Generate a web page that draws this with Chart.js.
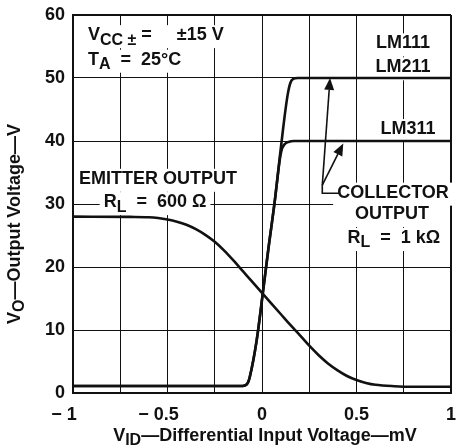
<!DOCTYPE html>
<html>
<head>
<meta charset="utf-8">
<script src="https://cdn.jsdelivr.net/npm/chart.js@4.4.1/dist/chart.umd.min.js"></script>
<style>
  body { margin: 0; background: #fff; }
  #wrap { width: 457px; height: 448px; }
</style>
</head>
<body>
<div id="wrap"><canvas id="vo" width="457" height="448"></canvas></div>
<script>
// tick marks / labels
const xTickValues = [-1, -0.5, 0, 0.5, 1];
const xTickLabels = ['\u2212 1\u2003', '\u2212 0.5\u2003', '0', '0.5', '1'];
const yTickValues = [0, 10, 20, 30, 40, 50, 60];

// collector output, LM111 / LM211 (V vs mV)
const lm111X = [-1, -0.12, -0.09, -0.075, -0.065, -0.028, 0.005, 0.033, 0.069, 0.086, 0.113, 0.135, 0.15, 0.165, 0.19, 1];
const lm111Y = [1.1, 1.1, 1.2, 1.6, 2.5, 8.4, 16, 22.7, 30.8, 35.3, 42.3, 47.2, 49.2, 49.85, 50, 50];

// collector output, LM311
const lm311X = [-1, -0.12, -0.09, -0.075, -0.065, -0.028, 0.005, 0.033, 0.069, 0.086, 0.097, 0.106, 0.12, 0.14, 0.17, 0.2, 1];
const lm311Y = [1.1, 1.1, 1.2, 1.6, 2.5, 8.4, 16, 22.7, 30.8, 35.2, 37.6, 38.8, 39.5, 39.85, 40, 40, 40];

// emitter output, RL = 600 ohm
const emitterX = [-1, -0.7, -0.6, -0.55, -0.5, -0.45, -0.4, -0.35, -0.3, -0.25, -0.2, -0.15, -0.1, -0.05, 0, 0.05, 0.1, 0.15, 0.2, 0.254, 0.3, 0.349, 0.4, 0.45, 0.5, 0.55, 0.6, 0.7, 0.8, 1];
const emitterY = [28, 27.95, 27.9, 27.78, 27.55, 27.2, 26.7, 26.0, 25.1, 24.0, 22.6, 21.0, 19.3, 17.6, 15.9, 14.2, 12.5, 10.8, 9.2, 7.4, 6.0, 4.7, 3.6, 2.7, 2.05, 1.6, 1.3, 1.08, 1.0, 1.0];

const FONT = '"Liberation Sans", Arial, sans-serif';

// text notes inside the plot (data coords), parts: [text, 'sub'?]
const notes = [
    { x: -0.921, y: 56.8, align: 'left', parts: [['V'], ['CC \u00b1', 'sub'], [' =     \u00b115 V']] },
    { x: -0.921, y: 52.9, align: 'left', parts: [['T'], ['A', 'sub'], ['  =  25\u00b0C']] },
    { x: 0.746, y: 55.5, align: 'center', parts: [['LM111']] },
    { x: 0.746, y: 51.7, align: 'center', parts: [['LM211']] },
    { x: 0.772, y: 41.9, align: 'center', parts: [['LM311']] },
    { x: 0.693, y: 31.8, align: 'center', parts: [['COLLECTOR']] },
    { x: 0.688, y: 28.4, align: 'center', parts: [['OUTPUT']] },
    { x: 0.698, y: 24.6, align: 'center', parts: [['R'], ['L', 'sub'], ['  =  1 k\u03a9']] },
    { x: -0.55, y: 34.0, align: 'center', parts: [['EMITTER OUTPUT']] },
    { x: -0.566, y: 30.3, align: 'center', parts: [['R'], ['L', 'sub'], ['  =  600 \u03a9']] }
];

const arrows = [
    { from: [0.319, 33.0], to: [0.36, 50] },
    { from: [0.319, 33.0], to: [0.43, 39.6] }
];
const bracket = [[0.319, 33.0], [0.319, 31.7], [0.411, 31.7]];

function toPoints(xs, ys) {
    return xs.map((x, i) => ({ x: x, y: ys[i] }));
}

function richWidth(ctx, parts, size) {
    let w = 0;
    parts.forEach(p => {
        ctx.font = 'bold ' + (p[1] === 'sub' ? size - 2 : size) + 'px ' + FONT;
        w += ctx.measureText(p[0]).width;
    });
    return w;
}

function drawRich(ctx, parts, x, y, align, size, mask) {
    const w = richWidth(ctx, parts, size);
    let cx = align === 'center' ? x - w / 2 : x;
    if (mask) {
        ctx.fillStyle = '#fff';
        ctx.fillRect(cx - 4, y - 10, w + 8, 23);
    }
    ctx.fillStyle = '#111';
    ctx.textBaseline = 'middle';
    ctx.textAlign = 'left';
    parts.forEach(p => {
        const sub = p[1] === 'sub';
        ctx.font = 'bold ' + (sub ? size - 2 : size) + 'px ' + FONT;
        ctx.fillText(p[0], cx, sub ? y + 5 : y);
        cx += ctx.measureText(p[0]).width;
    });
}

const notesPlugin = {
    id: 'notes',
    beforeDatasetsDraw(chart) {
        const ctx = chart.ctx;
        const xs = chart.scales.x, ys = chart.scales.y;
        ctx.save();
        notes.forEach(n => {
            drawRich(ctx, n.parts, xs.getPixelForValue(n.x), ys.getPixelForValue(n.y), n.align, 18, true);
        });
        ctx.restore();
    },
    afterDatasetsDraw(chart) {
        const ctx = chart.ctx;
        const xs = chart.scales.x, ys = chart.scales.y;
        ctx.save();
        ctx.strokeStyle = '#111';
        ctx.fillStyle = '#111';
        ctx.lineWidth = 1.6;
        // bracket under the arrows
        ctx.beginPath();
        bracket.forEach((p, i) => {
            const px = xs.getPixelForValue(p[0]), py = ys.getPixelForValue(p[1]);
            if (i === 0) ctx.moveTo(px, py); else ctx.lineTo(px, py);
        });
        ctx.stroke();
        arrows.forEach(a => {
            const x0 = xs.getPixelForValue(a.from[0]), y0 = ys.getPixelForValue(a.from[1]);
            const x1 = xs.getPixelForValue(a.to[0]), y1 = ys.getPixelForValue(a.to[1]);
            const ang = Math.atan2(y1 - y0, x1 - x0);
            const len = 12, half = 5;
            const bx = x1 - len * Math.cos(ang), by = y1 - len * Math.sin(ang);
            ctx.beginPath();
            ctx.moveTo(x0, y0);
            ctx.lineTo(bx, by);
            ctx.stroke();
            ctx.beginPath();
            ctx.moveTo(x1, y1);
            ctx.lineTo(bx + half * Math.sin(ang), by - half * Math.cos(ang));
            ctx.lineTo(bx - half * Math.sin(ang), by + half * Math.cos(ang));
            ctx.closePath();
            ctx.fill();
        });
        ctx.restore();
    },
    afterDraw(chart) {
        const ctx = chart.ctx;
        const area = chart.chartArea;
        ctx.save();
        // x title
        drawRich(ctx, [['V'], ['ID', 'sub'], ['\u2014Differential Input Voltage\u2014mV']],
            (area.left + area.right) / 2 + 3, chart.height - 12, 'center', 18, false);
        // y title (rotated)
        ctx.translate(15, (area.top + area.bottom) / 2 + 20);
        ctx.rotate(-Math.PI / 2);
        drawRich(ctx, [['V'], ['O', 'sub'], ['\u2014Output Voltage\u2014V']], 0, 0, 'center', 18, false);
        ctx.restore();
    }
};

new Chart(document.getElementById('vo').getContext('2d'), {
    type: 'line',
    data: {
        datasets: [
            { data: toPoints(lm111X, lm111Y) },
            { data: toPoints(lm311X, lm311Y) },
            { data: toPoints(emitterX, emitterY) }
        ]
    },
    options: {
        responsive: false,
        animation: false,
        events: [],
        layout: { padding: { top: 15, right: 6, left: 0, bottom: 0 } },
        elements: {
            point: { radius: 0 },
            line: { borderColor: '#111', borderWidth: 2.6, cubicInterpolationMode: 'monotone', fill: false }
        },
        plugins: { legend: { display: false }, tooltip: { enabled: false } },
        scales: {
            x: {
                type: 'linear',
                min: -1,
                max: 1,
                afterFit: (s) => { s.height = 55; s.paddingLeft = 0; s.paddingRight = 0; },
                afterBuildTicks: (s) => {
                    const t = [];
                    for (let i = 0; i <= 8; i++) t.push({ value: -1 + i * 0.25 });
                    s.ticks = t;
                },
                grid: { color: '#111', lineWidth: (c) => (c.tick && c.tick.value === 1 ? 2 : 1), drawTicks: false },
                border: { color: '#111', width: 2 },
                ticks: {
                    padding: 11,
                    color: '#111',
                    maxRotation: 0,
                    autoSkip: false,
                    font: { family: FONT, size: 18, weight: 'bold' },
                    callback: (v) => {
                        const i = xTickValues.findIndex(t => Math.abs(t - v) < 1e-6);
                        return i >= 0 ? xTickLabels[i] : '';
                    }
                }
            },
            y: {
                min: 0,
                max: 60,
                afterFit: (s) => { s.width = 73; s.paddingTop = 0; s.paddingBottom = 0; },
                afterBuildTicks: (s) => { s.ticks = yTickValues.map(v => ({ value: v })); },
                grid: { color: '#111', lineWidth: (c) => (c.tick && c.tick.value === 60 ? 2 : 1), drawTicks: false },
                border: { color: '#111', width: 2 },
                ticks: {
                    padding: 8,
                    color: '#111',
                    font: { family: FONT, size: 18, weight: 'bold' }
                }
            }
        }
    },
    plugins: [notesPlugin]
});
</script>
</body>
</html>
